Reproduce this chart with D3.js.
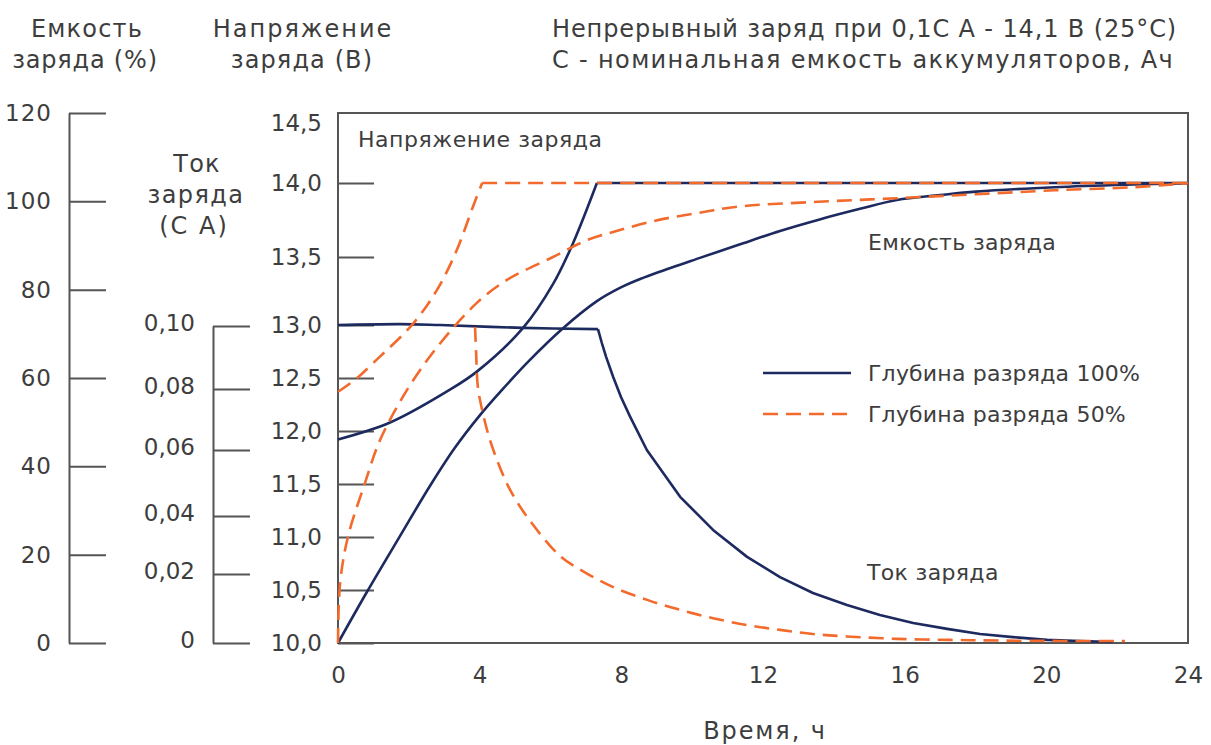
<!DOCTYPE html>
<html lang="ru">
<head>
<meta charset="utf-8">
<script src="https://cdn.jsdelivr.net/npm/d3@7"></script>
<style>
  html, body { margin: 0; padding: 0; background: #fff; }
  svg { display: block; }
  text { font-family: "DejaVu Sans", "Noto Sans", sans-serif; fill: #3d3d3d; }
</style>
</head>
<body>
<svg id="chart" width="1211" height="745"></svg>
<script>
// Charge time, hours
const hourTicks = [0, 4, 8, 12, 16, 20, 24];
const capacityTicks = [0, 20, 40, 60, 80, 100, 120];
const currentTicks = [0, 0.02, 0.04, 0.06, 0.08, 0.10];
const voltageTicks = [10, 10.5, 11, 11.5, 12, 12.5, 13, 13.5, 14, 14.5];

// Depth of discharge 100 % — [hours, value]
const voltage100 = [[0, 11.92], [1.47, 12.08], [3.16, 12.39], [3.92, 12.56], [5.22, 12.97],
  [6.07, 13.30], [6.63, 13.59], [7.31, 14.0], [24, 14.0]];
const capacity100 = [[0, 0], [0.82, 11.6], [1.75, 24.2], [2.6, 35.6], [3.3, 44.2], [4.01, 51.6],
  [4.63, 57.3], [5.42, 64.1], [6.33, 71.1], [7.31, 77.4], [7.96, 80.4], [8.53, 82.4], [9.06, 84.0],
  [10.22, 87.2], [11.29, 90.1], [12.48, 93.3], [13.55, 95.8], [14.74, 98.3], [15.78, 100.3],
  [17.0, 101.4], [18.01, 102.2], [20.24, 103.2], [22.47, 103.8], [24, 104.1]];
const current100 = [[0, 0.1003], [1.75, 0.1006], [2.88, 0.1003], [5.22, 0.0994], [7.34, 0.0990],
  [7.45, 0.0946], [7.57, 0.0902], [7.77, 0.0838], [7.99, 0.0774], [8.24, 0.0711], [8.72, 0.060],
  [9.66, 0.0458], [10.59, 0.0352], [11.55, 0.0259], [12.48, 0.0191], [13.41, 0.0145],
  [14.37, 0.0110], [15.30, 0.0081], [16.24, 0.0058], [17.20, 0.0041], [18.13, 0.0026],
  [19.06, 0.0017], [20.02, 0.0009], [20.95, 0.0006], [21.88, 0.0003]];

// Depth of discharge 50 %
const voltage50 = [[0, 12.37], [0.54, 12.50], [0.99, 12.64], [2.12, 13.01], [2.80, 13.26],
  [3.36, 13.55], [3.81, 13.84], [4.07, 14.0], [24, 14.0]];
const capacity50 = [[0, 0], [0.06, 13.6], [0.28, 24.0], [0.76, 36.2], [1.19, 46.0], [1.95, 57.3],
  [2.80, 67.0], [3.92, 77.0], [4.77, 82.2], [6.07, 87.4], [7.03, 91.2], [7.96, 93.5], [9.06, 95.8],
  [10.19, 97.4], [11.29, 98.8], [13.55, 99.9], [15.78, 100.7], [18.01, 101.6], [20.24, 102.5],
  [22.47, 103.2], [24, 104.1]];
const current50 = [[3.87, 0.0997], [3.90, 0.0914], [3.95, 0.0806], [4.09, 0.0721], [4.29, 0.0633],
  [4.57, 0.0548], [4.86, 0.0479], [5.34, 0.0397], [6.27, 0.0262], [6.97, 0.0206], [7.77, 0.0162],
  [8.73, 0.0125], [9.66, 0.0096], [10.59, 0.0072], [11.55, 0.0052], [12.48, 0.0038],
  [13.41, 0.0026], [14.37, 0.0019], [15.78, 0.0012], [17.28, 0.0009], [18.69, 0.0007],
  [20.39, 0.0006], [22.22, 0.0006]];

const legendLabels = ["Глубина разряда 100%", "Глубина разряда 50%"];

const NAVY = "#1d2a5f";
const ORANGE = "#f26a2c";
const AXIS = "#555555";
const TICK_SIZE = 23;

const svg = d3.select("#chart");
const ru = d3.formatLocale({ decimal: ",", thousands: " ", grouping: [3], currency: ["", ""] });

// Scales
const x = d3.scaleLinear().domain([0, 24]).range([338, 1188]);
const yCap = d3.scaleLinear().domain([0, 120]).range([643, 113]);
const yVolt = d3.scaleLinear().domain([10, 13, 13.5, 14, 14.5]).range([643, 325, 257, 183, 123]);
const yCur = d3.scaleLinear().domain(currentTicks).range([643, 574, 516, 450, 389, 326]);

// Plot frame
svg.append("rect")
  .attr("x", x(0)).attr("y", yCap(120))
  .attr("width", x(24) - x(0)).attr("height", yCap(0) - yCap(120))
  .attr("fill", "none").attr("stroke", AXIS).attr("stroke-width", 2);

function styleAxis(g) {
  g.selectAll("path.domain").attr("stroke", AXIS).attr("stroke-width", 2);
  g.selectAll(".tick line").attr("stroke", AXIS).attr("stroke-width", 2);
  g.selectAll(".tick text").attr("fill", "#3d3d3d")
    .style("font-family", '"DejaVu Sans", sans-serif').style("font-size", TICK_SIZE + "px");
}

// Capacity axis (%)
svg.append("g").attr("transform", `translate(69,0)`)
  .call(d3.axisLeft(yCap).tickValues(capacityTicks).tickSize(-37).tickSizeOuter(0).tickPadding(17)
    .tickFormat(d3.format("d")))
  .call(styleAxis)
  .call(g => g.selectAll(".tick text").style("letter-spacing", "1px"));

// Current axis (C A)
svg.append("g").attr("transform", `translate(213,0)`)
  .call(d3.axisLeft(yCur).tickValues(currentTicks).tickSize(-37).tickSizeOuter(0).tickPadding(18)
    .tickFormat(d => d === 0 ? "0" : ru.format(".2f")(d)))
  .call(styleAxis)
  .call(g => g.selectAll(".tick text").attr("dy", "0.2em"));

// Voltage axis (V)
svg.append("g").attr("transform", `translate(${x(0)},0)`)
  .call(d3.axisLeft(yVolt).tickValues(voltageTicks).tickSize(-36).tickSizeOuter(0).tickPadding(16)
    .tickFormat(ru.format(".1f")))
  .call(styleAxis)
  .call(g => g.select("path.domain").remove())
  .call(g => g.selectAll(".tick").filter(d => d === 14.5).select("line").remove());

// Time axis
svg.append("g").attr("transform", `translate(0,${yCap(0)})`)
  .call(d3.axisBottom(x).tickValues(hourTicks).tickSize(0).tickPadding(24).tickFormat(d3.format("d")))
  .call(styleAxis)
  .call(g => g.select("path.domain").remove());

// Curves: smooth part up to the knee, straight after it
function curvePath(data, yScale, knee) {
  const smooth = d3.line().x(d => x(d[0])).y(d => yScale(d[1])).curve(d3.curveCatmullRom.alpha(0.5));
  const straight = d3.line().x(d => x(d[0])).y(d => yScale(d[1]));
  if (knee == null) return smooth(data);
  return smooth(data.slice(0, knee + 1)) + straight(data.slice(knee));
}

const curves = svg.append("g").attr("fill", "none").attr("stroke-width", 2.6)
  .attr("stroke-linejoin", "round");

function drawCurve(data, yScale, knee, color, dashed) {
  curves.append("path")
    .attr("d", curvePath(data, yScale, knee))
    .attr("stroke", color)
    .attr("stroke-dasharray", dashed ? "15,8" : null);
}

drawCurve(voltage100, yVolt, 7, NAVY, false);
drawCurve(capacity100, yCap, null, NAVY, false);
drawCurve(current100, yCur, 4, NAVY, false);
drawCurve(voltage50, yVolt, 7, ORANGE, true);
drawCurve(capacity50, yCap, null, ORANGE, true);
drawCurve(current50, yCur, null, ORANGE, true);

// Legend
const legend = svg.append("g").attr("transform", "translate(763,373)");
legendLabels.forEach((label, i) => {
  const row = legend.append("g").attr("transform", `translate(0,${i * 41})`);
  row.append("line").attr("x1", 0).attr("x2", 88).attr("y1", 0).attr("y2", 0)
    .attr("stroke", i === 0 ? NAVY : ORANGE).attr("stroke-width", 2.6)
    .attr("stroke-dasharray", i === 0 ? null : "15,8");
  row.append("text").attr("x", 105).attr("y", 0).attr("dy", "0.35em")
    .style("font-size", "22px").style("letter-spacing", "0.2px").text(label);
});

// Text
function addText(str, px, py, anchor, size, spacing) {
  svg.append("text").attr("x", px).attr("y", py)
    .attr("text-anchor", anchor)
    .style("font-size", size + "px").style("letter-spacing", spacing + "px").text(str);
}

// Axis titles
addText("Емкость", 87, 37, "middle", 24, 1.2);
addText("заряда (%)", 85, 68, "middle", 24, 0.8);
addText("Напряжение", 303, 37, "middle", 24, 2.0);
addText("заряда (В)", 302, 68, "middle", 24, 1.1);
addText("Ток", 197, 172, "middle", 24, 1.2);
addText("заряда", 196, 203, "middle", 24, 1.4);
addText("(С А)", 194, 234, "middle", 24, 2.0);
// Header note
addText("Непрерывный заряд при 0,1С А - 14,1 В (25°С)", 552, 37, "start", 24, 0.88);
addText("С - номинальная емкость аккумуляторов, Ач", 552, 68, "start", 24, 1.35);
// Curve group labels
addText("Напряжение заряда", 358, 147, "start", 22, 0.55);
addText("Емкость заряда", 868, 250, "start", 22, 0.35);
addText("Ток заряда", 867, 580, "start", 22, 0.35);
addText("Время, ч", 765, 739, "middle", 24, 1.9);
</script>
</body>
</html>
